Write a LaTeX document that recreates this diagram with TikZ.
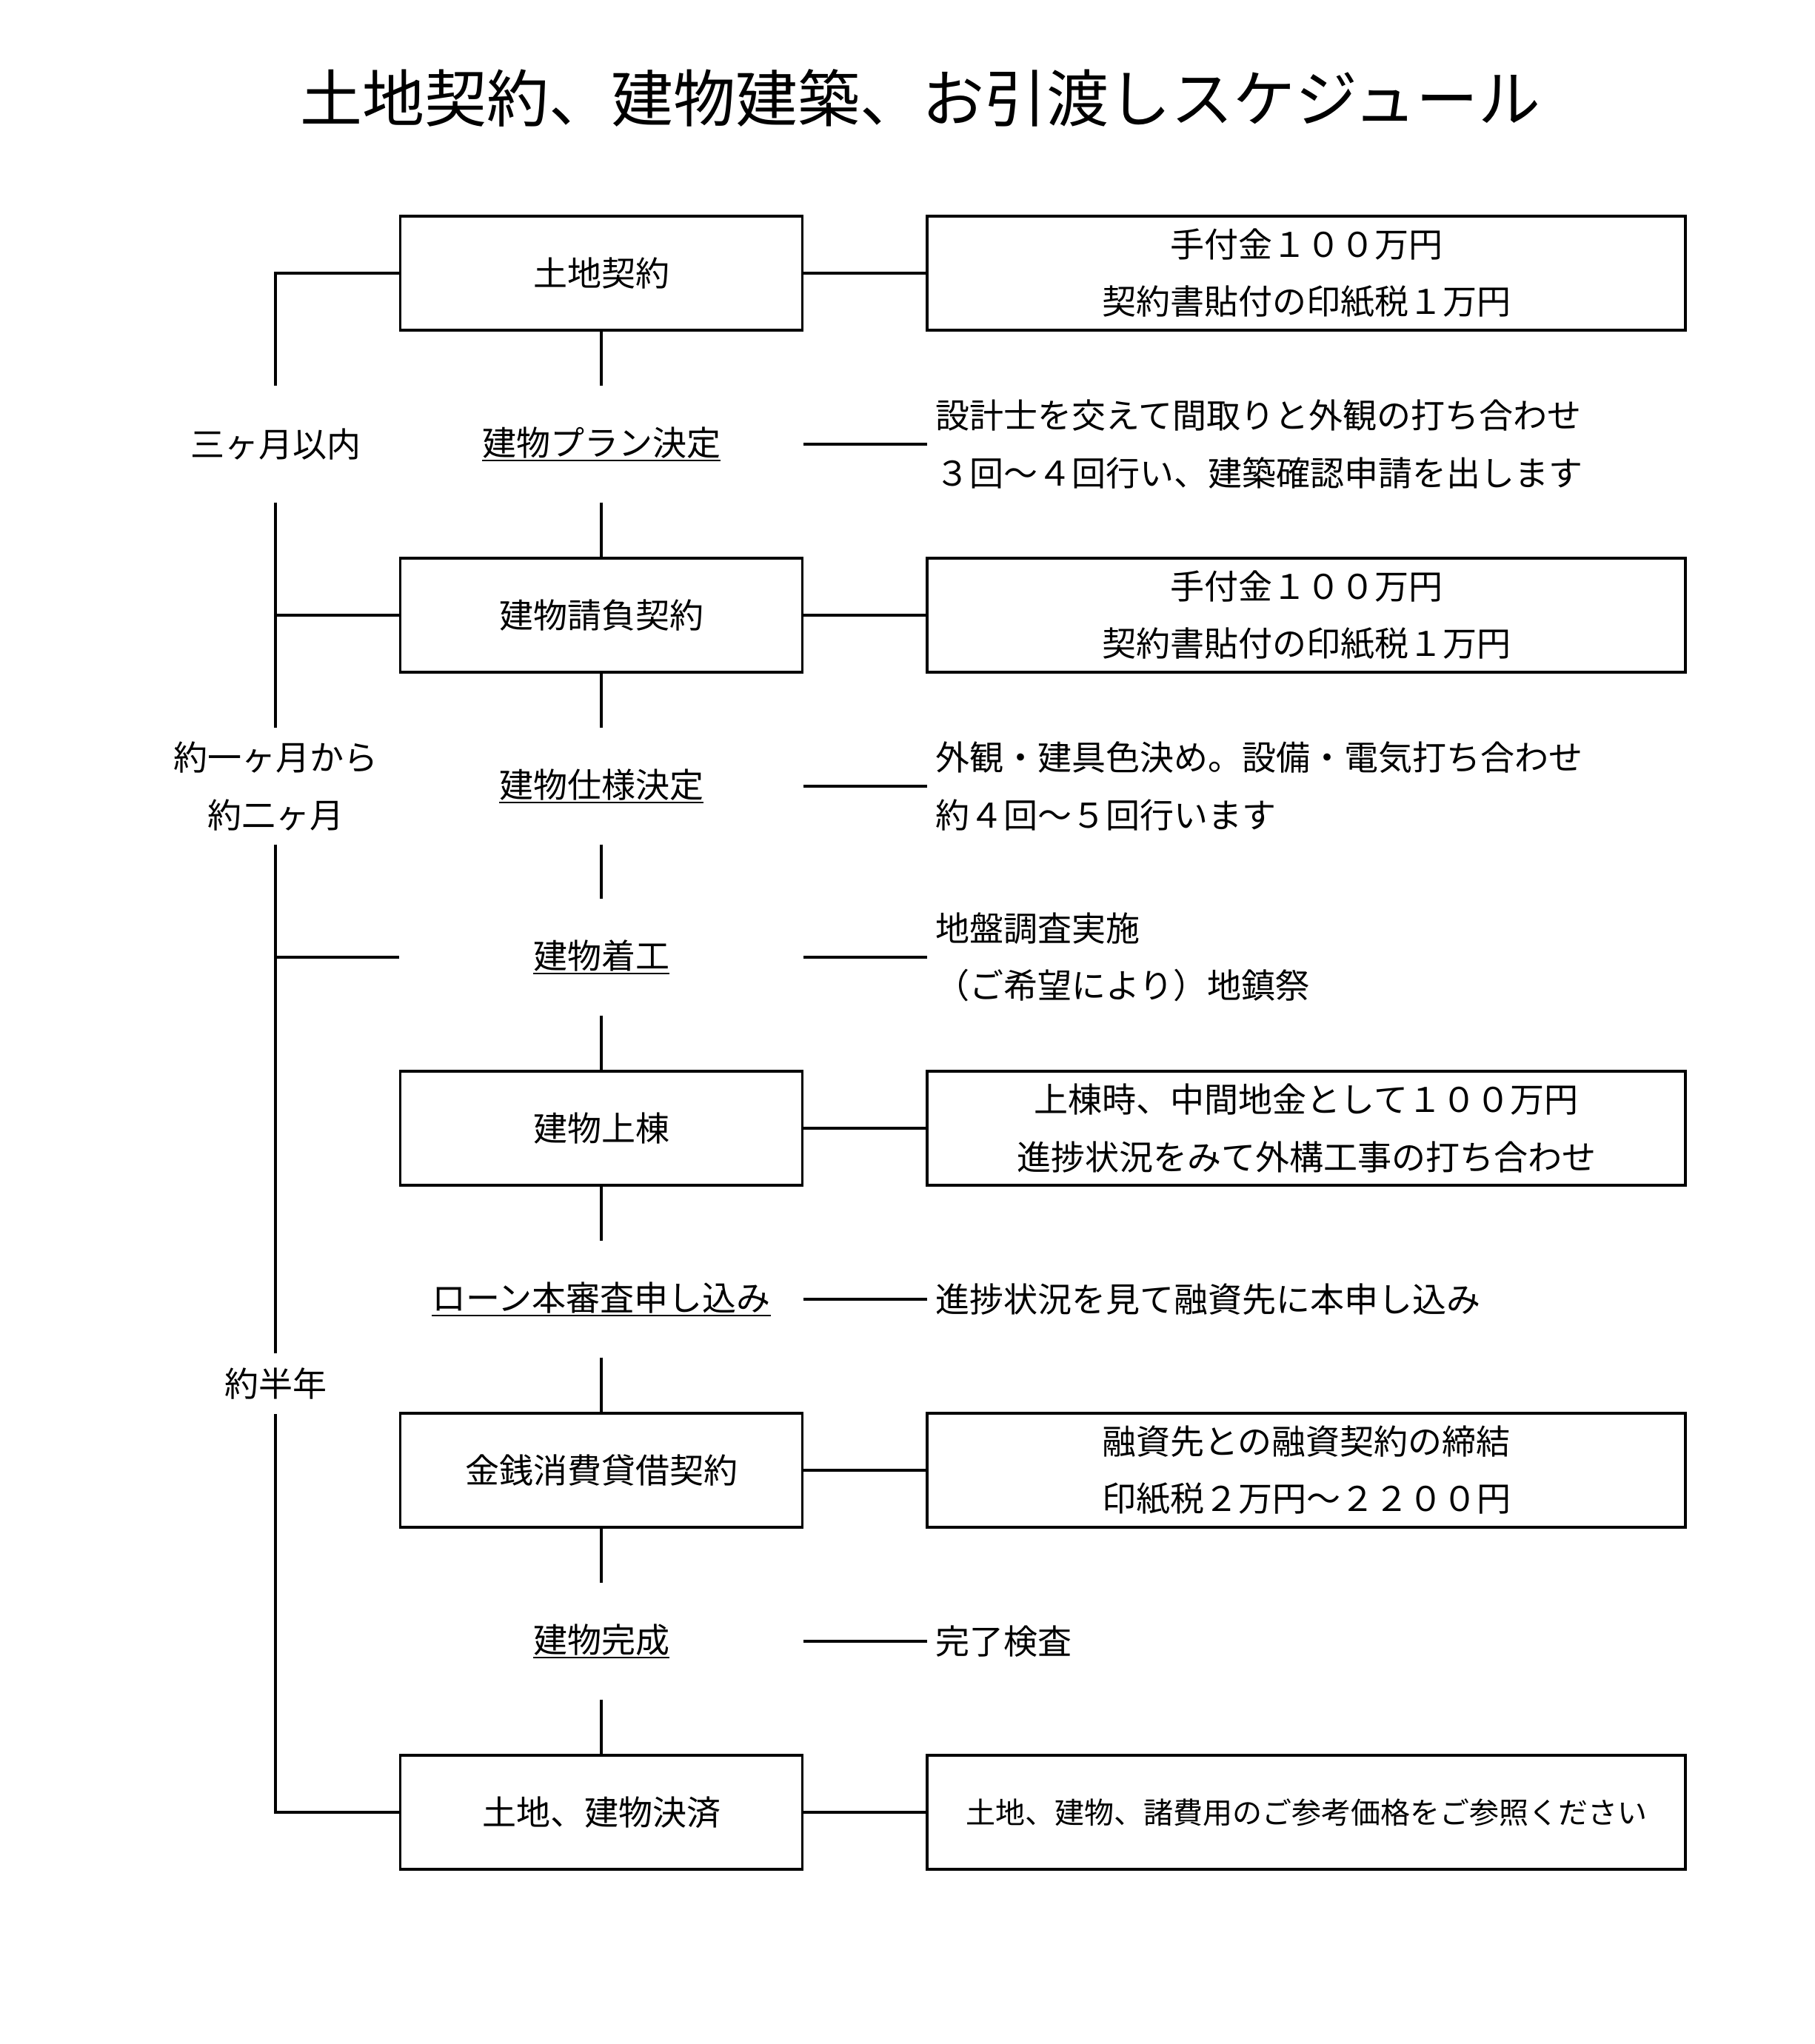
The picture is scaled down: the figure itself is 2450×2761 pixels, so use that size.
\documentclass[tikz,border=0pt]{standalone}
\usepackage{fontspec}
\setmainfont{Noto Sans CJK JP}
\newcommand\myul[1]{\leavevmode\vtop{\hbox{#1}\kern0.4pt\hrule height 0.8pt}}
\begin{document}
\begin{tikzpicture}[x=0.3pt,y=-0.3pt,line width=1pt,
  body/.style={font=\fontsize{13.8}{23.25}\selectfont},
  box/.style={draw,body,line width=1pt,minimum width=162.9pt,minimum height=46.2pt,inner sep=0pt,align=center},
  plainnode/.style={body,minimum width=162.9pt,minimum height=46.2pt,inner sep=0pt,align=center},
  rbox/.style={draw,body,line width=1pt,minimum width=307.2pt,minimum height=46.2pt,inner sep=0pt,align=center},
  note/.style={body,anchor=west,align=left,inner xsep=3pt,inner ysep=0pt},
  lab/.style={body,minimum height=46.2pt,inner sep=0pt,align=center},
  conn/.style={line width=1pt},
  hconn/.style={line width=1.2pt}]
\useasboundingbox (0,0) rectangle (2450,2761);

\node (title) at (1243,132) {\fontsize{25.2}{30}\selectfont 土地契約、建物建築、お引渡しスケジュール};

% centre column
\node[box] (b0) at (812,369) {土地契約};
\node[plainnode] (b1) at (812,600) {\myul{建物プラン決定}};
\node[box] (b2) at (812,831) {建物請負契約};
\node[plainnode] (b3) at (812,1062) {\myul{建物仕様決定}};
\node[plainnode] (b4) at (812,1293) {\myul{建物着工}};
\node[box] (b5) at (812,1524) {建物上棟};
\node[plainnode] (b6) at (812,1755) {\myul{ローン本審査申し込み}};
\node[box] (b7) at (812,1986) {金銭消費貸借契約};
\node[plainnode] (b8) at (812,2217) {\myul{建物完成}};
\node[box] (b9) at (812,2448) {土地、建物決済};

% right column
\node[rbox] (n0) at (1764,369) {手付金１００万円\\契約書貼付の印紙税１万円};
\node[note] (n1) at (1252,600) {設計士を交えて間取りと外観の打ち合わせ\\３回～４回行い、建築確認申請を出します};
\node[rbox] (n2) at (1764,831) {手付金１００万円\\契約書貼付の印紙税１万円};
\node[note] (n3) at (1252,1062) {外観・建具色決め。設備・電気打ち合わせ\\約４回～５回行います};
\node[note] (n4) at (1252,1293) {地盤調査実施\\（ご希望により）地鎮祭};
\node[rbox] (n5) at (1764,1524) {上棟時、中間地金として１００万円\\進捗状況をみて外構工事の打ち合わせ};
\node[note] (n6) at (1252,1755) {進捗状況を見て融資先に本申し込み};
\node[rbox] (n7) at (1764,1986) {融資先との融資契約の締結\\印紙税２万円～２２００円};
\node[note] (n8) at (1252,2217) {完了検査};
\node[rbox,font=\fontsize{12}{20}\selectfont] (n9) at (1764,2448) {土地、建物、諸費用のご参考価格をご参照ください};

% left labels
\node[lab] (t1) at (372,600) {三ヶ月以内};
\node[lab] (t3) at (372,1062) {約一ヶ月から\\約二ヶ月};
\node[lab,minimum height=23.7pt] (t6) at (372,1869) {約半年};

% vertical connectors in centre column
\foreach \a/\b in {b0/b1,b1/b2,b2/b3,b3/b4,b4/b5,b5/b6,b6/b7,b7/b8,b8/b9}
  \draw[conn] (\a.south) -- (\b.north);

% horizontal connectors to right column
\foreach \a/\b in {b0/n0,b1/n1,b2/n2,b3/n3,b4/n4,b5/n5,b6/n6,b7/n7,b8/n8,b9/n9}
  \draw[hconn] (\a.east) -- (\b.west);

% left timeline
\draw[conn] (b0.west) -| (t1.north);
\draw[conn] (t1.south) -- (t3.north);
\draw[hconn] (b2.west) -- (t1.south |- b2.west);
\draw[conn] (t3.south) -- (t6.north);
\draw[hconn] (b4.west) -- (t3.south |- b4.west);
\draw[conn] (t6.south) |- (b9.west);
\end{tikzpicture}
\end{document}
